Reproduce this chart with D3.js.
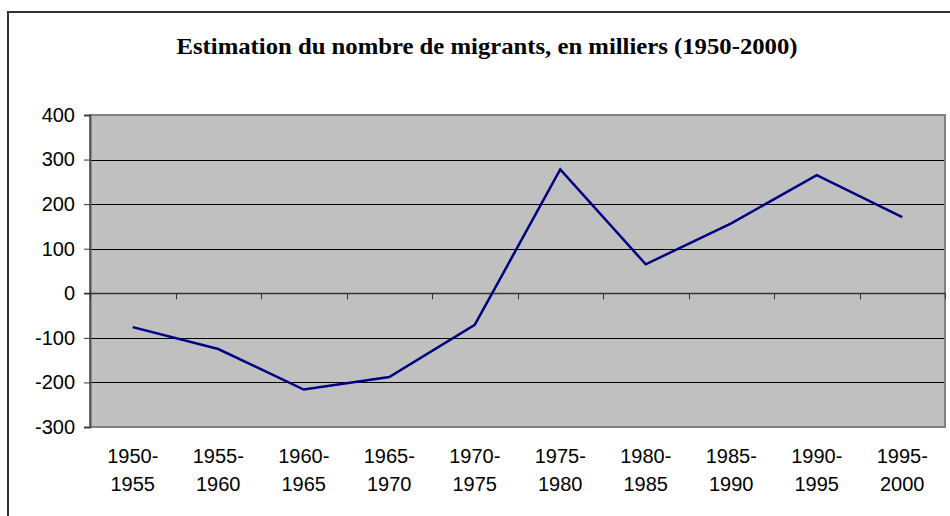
<!DOCTYPE html>
<html>
<head>
<meta charset="utf-8">
<script src="https://cdn.jsdelivr.net/npm/d3@7"></script>
<style>
  body { margin: 0; background: #fff; }
  svg { display: block; }
</style>
</head>
<body>
<script>
var periods = ["1950-1955","1955-1960","1960-1965","1965-1970","1970-1975",
               "1975-1980","1980-1985","1985-1990","1990-1995","1995-2000"];
var migrants = [-76, -125, -216, -188, -71, 278, 65, 157, 265, 171];
var yTicks = [-300, -200, -100, 0, 100, 200, 300, 400];
var title = "Estimation du nombre de migrants, en milliers (1950-2000)";

var w = 950;
var h = 516;
var plotL = 90, plotR = 945, plotT = 115, plotB = 427;

var svg = d3.select("body")
	.append("svg")
	.attr("width", w)
	.attr("height", h);

// chart frame, runs off the right and bottom edge
svg.append("rect")
	.attr("x", 8)
	.attr("y", 12)
	.attr("width", 1000)
	.attr("height", 600)
	.attr("fill", "#fff")
	.attr("stroke", "#333")
	.attr("stroke-width", 2);

svg.append("text")
	.attr("x", 487)
	.attr("y", 54)
	.attr("text-anchor", "middle")
	.attr("font-family", "'Liberation Serif', 'Times New Roman', serif")
	.attr("font-weight", "bold")
	.attr("font-size", 24)
	.attr("textLength", 621)
	.attr("lengthAdjust", "spacingAndGlyphs")
	.text(title);

var x = d3.scaleBand()
	.domain(periods)
	.range([plotL, plotR]);

var y = d3.scaleLinear()
	.domain([-300, 400])
	.range([plotB, plotT]);

// plot area
svg.append("rect")
	.attr("x", plotL)
	.attr("y", plotT)
	.attr("width", plotR - plotL)
	.attr("height", plotB - plotT)
	.attr("fill", "#c0c0c0");

// gridlines
svg.selectAll("line.grid")
	.data(yTicks.filter(function(d){ return d != 0 && d != 400 && d != -300; }))
	.enter()
	.append("line")
	.attr("class", "grid")
	.attr("x1", plotL)
	.attr("x2", plotR)
	.attr("y1", function(d){ return Math.round(y(d)) + 0.5; })
	.attr("y2", function(d){ return Math.round(y(d)) + 0.5; })
	.attr("stroke", "#000")
	.attr("stroke-width", 1);

// plot border
svg.append("rect")
	.attr("x", plotL)
	.attr("y", plotT)
	.attr("width", plotR - plotL)
	.attr("height", plotB - plotT)
	.attr("fill", "none")
	.attr("stroke", "#808080")
	.attr("stroke-width", 2);

// y axis
var yAxis = d3.axisLeft(y)
	.tickValues(yTicks)
	.tickFormat(function(d){ return String(d); })
	.tickSize(6)
	.tickPadding(9);

var gy = svg.append("g")
	.attr("transform", "translate(" + plotL + ",0)")
	.call(yAxis);
gy.select(".domain").attr("stroke", "#555").attr("stroke-width", 2);
gy.selectAll(".tick line").attr("stroke", "#333");
gy.selectAll("text")
	.attr("font-family", "'Liberation Sans', Arial, sans-serif")
	.attr("font-size", 20)
	.attr("fill", "#000");

// zero axis with category ticks
var ticksX = periods.map(function(d){ return x(d); }).concat([plotR]);
svg.append("line")
	.attr("x1", plotL - 6)
	.attr("x2", plotR)
	.attr("y1", Math.round(y(0)) + 0.5)
	.attr("y2", Math.round(y(0)) + 0.5)
	.attr("stroke", "#333")
	.attr("stroke-width", 1.5);

svg.selectAll("line.xtick")
	.data(ticksX)
	.enter()
	.append("line")
	.attr("class", "xtick")
	.attr("x1", function(d){ return Math.round(d) + 0.5; })
	.attr("x2", function(d){ return Math.round(d) + 0.5; })
	.attr("y1", y(0))
	.attr("y2", y(0) + 6)
	.attr("stroke", "#333");

// category labels, two lines each
var lab = svg.selectAll("text.cat")
	.data(periods)
	.enter()
	.append("text")
	.attr("class", "cat")
	.attr("text-anchor", "middle")
	.attr("font-family", "'Liberation Sans', Arial, sans-serif")
	.attr("font-size", 20)
	.attr("fill", "#000");

lab.append("tspan")
	.attr("x", function(d){ return x(d) + x.bandwidth() / 2; })
	.attr("y", 463)
	.text(function(d){ return d.slice(0, 5); });

lab.append("tspan")
	.attr("x", function(d){ return x(d) + x.bandwidth() / 2; })
	.attr("y", 491)
	.text(function(d){ return d.slice(5); });

// series line
var line = d3.line()
	.x(function(d, i){ return x(periods[i]) + x.bandwidth() / 2; })
	.y(function(d){ return y(d); });

svg.append("path")
	.datum(migrants)
	.attr("d", line)
	.attr("fill", "none")
	.attr("stroke", "#000080")
	.attr("stroke-width", 2.5);
</script>
</body>
</html>
